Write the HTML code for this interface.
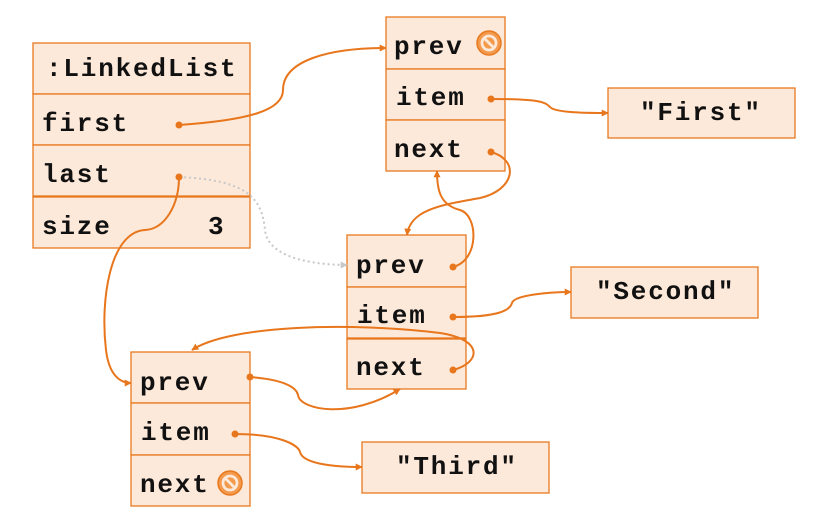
<!DOCTYPE html>
<html><head><meta charset="utf-8"><style>
html,body{margin:0;padding:0;background:#fff;}
svg{display:block;}
text{font-family:"Liberation Mono",monospace;font-weight:bold;font-size:26px;fill:#111;letter-spacing:1.8px;}
</style></head><body>
<svg width="839" height="532" viewBox="0 0 839 532" xmlns="http://www.w3.org/2000/svg">
<defs>
<marker id="a" viewBox="0 0 10 10" refX="9" refY="5" markerWidth="7" markerHeight="7" orient="auto-start-reverse" markerUnits="userSpaceOnUse"><path d="M0,0 L10,5 L0,10 z" fill="#e8761c"/></marker>
<marker id="g" viewBox="0 0 10 10" refX="9" refY="5" markerWidth="7" markerHeight="7" orient="auto" markerUnits="userSpaceOnUse"><path d="M0,0 L10,5 L0,10 z" fill="#c8c8c8"/></marker>
</defs>
<g fill="#fde9da" stroke="#e8791f" stroke-width="1.3">
<rect x="33" y="43" width="217" height="51"/>
<rect x="33" y="94" width="217" height="51"/>
<rect x="33" y="145" width="217" height="51"/>
<rect x="33" y="197" width="217" height="51"/>
<rect x="386" y="17" width="119" height="52"/>
<rect x="386" y="69" width="119" height="51"/>
<rect x="386" y="120" width="119" height="51"/>
<rect x="608" y="88" width="187" height="50"/>
<rect x="347" y="235" width="119" height="52"/>
<rect x="347" y="287" width="119" height="51"/>
<rect x="347" y="339" width="119" height="50"/>
<rect x="571" y="267" width="187" height="51"/>
<rect x="131" y="352" width="119" height="51"/>
<rect x="131" y="403" width="119" height="52"/>
<rect x="131" y="455" width="119" height="51"/>
<rect x="362" y="442" width="187" height="51"/>
</g>
<text x="46" y="76">:LinkedList</text>
<text x="42" y="131">first</text>
<text x="42" y="182">last</text>
<text x="42" y="234">size</text>
<text x="208" y="234">3</text>
<text x="394" y="54">prev</text>
<text x="396" y="105">item</text>
<text x="394" y="157">next</text>
<text x="640" y="120">"First"</text>
<text x="356" y="273">prev</text>
<text x="357" y="323">item</text>
<text x="356" y="375">next</text>
<text x="596" y="299">"Second"</text>
<text x="140" y="390">prev</text>
<text x="141" y="440">item</text>
<text x="140" y="492">next</text>
<text x="396" y="474">"Third"</text>
<g>
<circle cx="489" cy="43" r="12" fill="#f39a4d" stroke="#e8791f" stroke-width="1.5"/>
<circle cx="489" cy="43" r="7" fill="none" stroke="#fde9da" stroke-width="2.8"/>
<line x1="484" y1="38" x2="494" y2="48" stroke="#fde9da" stroke-width="2.8"/>
<circle cx="230" cy="483" r="12" fill="#f39a4d" stroke="#e8791f" stroke-width="1.5"/>
<circle cx="230" cy="483" r="7" fill="none" stroke="#fde9da" stroke-width="2.8"/>
<line x1="225" y1="478" x2="235" y2="488" stroke="#fde9da" stroke-width="2.8"/>
</g>
<path d="M179,177 C250,180 262,200 265,230 C268,260 320,265 347,265" fill="none" stroke="#c8c8c8" stroke-width="2" stroke-dasharray="2,3" marker-end="url(#g)"/>
<g fill="none" stroke="#e8761c" stroke-width="2">
<path d="M179,125 C250,120 283,110 283,90 C283,60 330,48 386,48" marker-end="url(#a)"/>
<path d="M179,177 C179,205 165,229 145,230 C110,232 100,300 106,350 C109,375 120,383 131,383" marker-end="url(#a)"/>
<path d="M491,99 C540,99 545,102 550,107 C555,113 590,113 608,113" marker-end="url(#a)"/>
<path d="M491,152 C520,160 515,190 480,198 C440,205 410,210 407,235" marker-end="url(#a)"/>
<path d="M453,267 C480,260 478,215 460,210 C440,205 437,190 437,171" marker-end="url(#a)"/>
<path d="M453,317 C500,317 510,310 512,303 C514,295 550,292 571,292" marker-end="url(#a)"/>
<path d="M453,370 C480,363 485,340 440,333 C350,322 230,325 192,350" marker-end="url(#a)"/>
<path d="M250,377 C290,380 297,390 298,395 C300,410 350,420 400,389" marker-end="url(#a)"/>
<path d="M235,434 C280,434 298,445 300,452 C303,465 340,467 362,467" marker-end="url(#a)"/>
</g>
<g fill="#e8761c">
<circle cx="179" cy="125" r="3.5"/><circle cx="179" cy="177" r="3.5"/>
<circle cx="491" cy="99" r="3.5"/><circle cx="491" cy="152" r="3.5"/>
<circle cx="453" cy="267" r="3.5"/><circle cx="453" cy="317" r="3.5"/><circle cx="453" cy="370" r="3.5"/>
<circle cx="250" cy="377" r="3.5"/><circle cx="235" cy="434" r="3.5"/>
</g>
</svg>
</body></html>
